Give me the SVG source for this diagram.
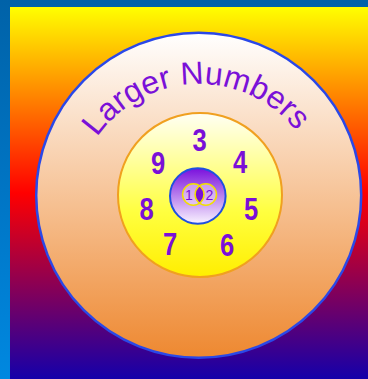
<svg xmlns="http://www.w3.org/2000/svg" width="368" height="379" viewBox="0 0 368 379">
  <defs>
    <linearGradient id="frame" x1="0" y1="0" x2="0" y2="1">
      <stop offset="0" stop-color="#0062a8"/>
      <stop offset="1" stop-color="#0088e0"/>
    </linearGradient>
    <linearGradient id="bg" x1="0" y1="0" x2="0" y2="1">
      <stop offset="0" stop-color="#ffff00"/>
      <stop offset="0.5" stop-color="#ff0000"/>
      <stop offset="1" stop-color="#1400aa"/>
    </linearGradient>
    <linearGradient id="outerFill" x1="0" y1="0" x2="0" y2="1">
      <stop offset="0" stop-color="#ffffff"/>
      <stop offset="1" stop-color="#ee8830"/>
    </linearGradient>
    <linearGradient id="innerFill" x1="0" y1="0" x2="0" y2="1">
      <stop offset="0" stop-color="#fffff4"/>
      <stop offset="0.6" stop-color="#ffff40"/>
      <stop offset="1" stop-color="#ffee00"/>
    </linearGradient>
    <linearGradient id="coreFill" x1="0" y1="0" x2="0" y2="1">
      <stop offset="0" stop-color="#7a10dd"/>
      <stop offset="1" stop-color="#faf4ff"/>
    </linearGradient>
    <path id="arc" d="M 75,208 A 124 124 0 0 1 323,208"/>
    <clipPath id="lensClip">
      <circle cx="193.3" cy="194.5" r="10.7"/>
    </clipPath>
  </defs>
  <style>
    .digit { font-family: "Liberation Sans", Arial, sans-serif; font-weight: bold; font-size: 32px; fill: #7a10d8; text-anchor: middle; }
    .title { font-family: "Liberation Sans", Arial, sans-serif; font-size: 32px; fill: #7a10d8; }
    .small { font-family: "Liberation Sans", Arial, sans-serif; font-size: 14px; fill: #7a10d8; text-anchor: middle; }
  </style>
  <rect x="0" y="0" width="368" height="379" fill="url(#frame)"/>
  <rect x="10" y="7" width="358" height="372" fill="url(#bg)"/>

  <g id="outer">
    <circle cx="198.7" cy="195.3" r="162.5" fill="url(#outerFill)" stroke="#2a48e8" stroke-width="2.5"/>
    <text class="title"><textPath href="#arc" startOffset="49%" text-anchor="middle">Larger Numbers</textPath></text>
  </g>

  <g id="inner">
    <circle cx="200" cy="195" r="82" fill="url(#innerFill)" stroke="#f0a020" stroke-width="2"/>
    <text class="digit" transform="translate(199.5,151) scale(0.8,1)">3</text>
    <text class="digit" transform="translate(240,173) scale(0.8,1)">4</text>
    <text class="digit" transform="translate(158,174) scale(0.8,1)">9</text>
    <text class="digit" transform="translate(146.5,220) scale(0.8,1)">8</text>
    <text class="digit" transform="translate(251,220) scale(0.8,1)">5</text>
    <text class="digit" transform="translate(170,255) scale(0.8,1)">7</text>
    <text class="digit" transform="translate(227,256) scale(0.8,1)">6</text>
  </g>

  <g id="core">
    <circle cx="197.8" cy="196" r="27.8" fill="url(#coreFill)" stroke="#2050e0" stroke-width="2"/>
  </g>

  <g id="venn">
    <circle cx="193.3" cy="194.5" r="10.7" fill="#f0d8f8" fill-opacity="0.55"/>
    <circle cx="205.8" cy="194.5" r="10.7" fill="#f0d8f8" fill-opacity="0.55"/>
    <circle cx="205.8" cy="194.5" r="10.7" fill="#7a10d8" clip-path="url(#lensClip)"/>
    <circle cx="193.3" cy="194.5" r="10.7" fill="none" stroke="#f0e000" stroke-width="1.5"/>
    <circle cx="205.8" cy="194.5" r="10.7" fill="none" stroke="#f0e000" stroke-width="1.5"/>
    <text class="small" x="189" y="199.5">1</text>
    <text class="small" x="209.5" y="199.5">2</text>
  </g>
</svg>
